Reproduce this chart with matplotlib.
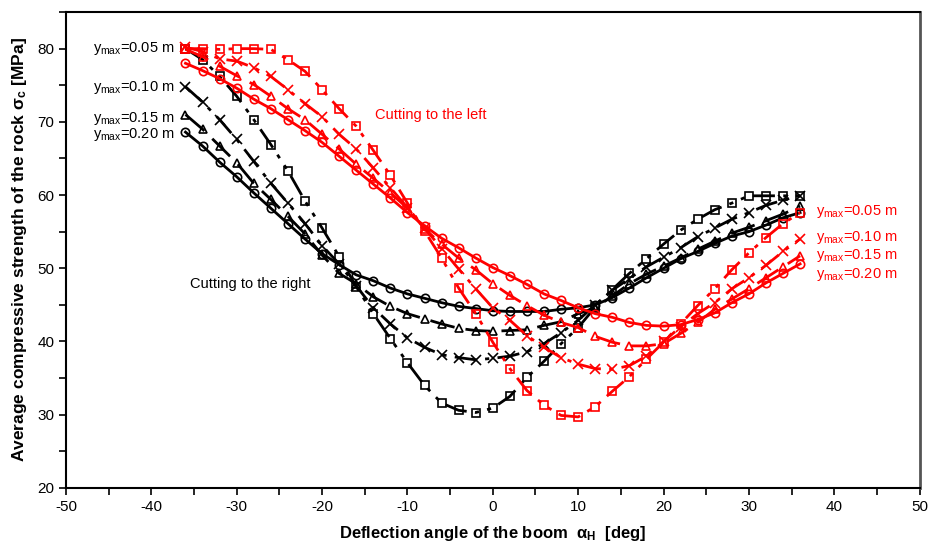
import matplotlib
matplotlib.use("Agg")
import matplotlib.pyplot as plt
from matplotlib.ticker import MultipleLocator

plt.rcParams["font.family"] = ["Liberation Sans", "DejaVu Sans"]
plt.rcParams["mathtext.fontset"] = "custom"
plt.rcParams["mathtext.rm"] = "Liberation Sans"
plt.rcParams["mathtext.it"] = "Liberation Sans:italic"
plt.rcParams["mathtext.bf"] = "Liberation Sans:bold"
plt.rcParams["axes.unicode_minus"] = False

# deflection angle of the boom [deg]
angle = list(range(-36, 37, 2))

# cutting to the right (black)
right_005 = [80.0, 78.5, 76.2, 73.5, 70.3, 66.9, 63.3, 59.2, 55.5, 51.6, 47.5, 43.8, 40.4,
             37.1, 34.0, 31.6, 30.6, 30.3, 30.9, 32.5, 35.1, 37.3, 39.7, 41.9, 44.7, 47.1,
             49.3, 51.3, 53.3, 55.2, 56.7, 58.0, 58.9, 59.9, 59.9, 59.9, 59.9]
right_010 = [74.8, 72.7, 70.3, 67.6, 64.6, 61.6, 58.9, 56.1, 53.1, 50.6, 47.6, 44.6, 42.4,
             40.5, 39.2, 38.2, 37.8, 37.5, 37.7, 38.0, 38.6, 39.7, 41.2, 42.9, 45.0, 47.0,
             48.6, 50.2, 51.5, 52.8, 54.3, 55.5, 56.7, 57.6, 58.6, 59.3, 59.9]
right_015 = [71.0, 69.0, 66.7, 64.4, 61.6, 59.4, 57.1, 54.7, 51.8, 49.3, 47.9, 46.1, 44.8,
             43.8, 43.1, 42.4, 41.8, 41.5, 41.4, 41.5, 41.6, 42.2, 42.7, 43.8, 44.6, 46.2,
             47.9, 49.2, 50.3, 51.4, 52.6, 53.7, 54.8, 55.6, 56.5, 57.4, 58.5]
right_020 = [68.6, 66.7, 64.5, 62.5, 60.3, 58.2, 56.1, 54.0, 52.0, 50.5, 49.1, 48.3, 47.3,
             46.5, 45.9, 45.3, 44.8, 44.5, 44.2, 44.1, 44.1, 44.1, 44.4, 44.6, 45.0, 46.0,
             47.3, 48.7, 50.0, 51.3, 52.3, 53.4, 54.4, 55.0, 55.9, 56.9, 57.6]

# cutting to the left (red)
left_005 = [80.0, 80.0, 79.9, 80.0, 80.0, 79.9, 78.5, 76.9, 74.4, 71.8, 69.4, 66.1, 62.7,
            58.9, 55.1, 51.4, 47.3, 43.8, 39.9, 36.3, 33.3, 31.3, 29.9, 29.7, 31.1, 33.2,
            35.2, 37.6, 39.9, 42.4, 44.9, 47.2, 49.8, 52.1, 54.2, 56.1, 57.6]
left_010 = [80.2, 79.6, 78.6, 78.3, 77.4, 76.2, 74.4, 72.5, 70.7, 68.3, 66.3, 63.7, 61.0,
            58.3, 55.5, 52.7, 49.9, 47.2, 44.6, 42.9, 40.8, 39.2, 37.8, 36.9, 36.3, 36.2,
            36.7, 38.0, 40.0, 42.0, 43.8, 45.3, 47.2, 48.7, 50.4, 52.3, 54.0]
left_015 = [79.9, 78.9, 77.6, 76.3, 75.1, 73.5, 71.8, 70.3, 68.3, 66.3, 64.2, 62.3, 60.3,
            58.2, 55.4, 53.3, 51.4, 49.8, 47.9, 46.3, 44.9, 43.6, 42.6, 41.9, 40.7, 39.9,
            39.4, 39.4, 39.7, 41.1, 42.6, 44.4, 45.8, 47.2, 48.7, 50.2, 51.7]
left_020 = [78.0, 77.0, 75.9, 74.6, 73.1, 71.8, 70.3, 68.8, 67.2, 65.3, 63.4, 61.5, 59.6,
            57.6, 55.8, 54.1, 52.8, 51.4, 50.1, 49.0, 47.8, 46.5, 45.6, 44.6, 43.8, 43.3,
            42.6, 42.2, 42.1, 42.3, 43.0, 43.9, 45.3, 46.5, 48.0, 49.3, 50.6]

ymax_labels = ["0.05", "0.10", "0.15", "0.20"]
# where the y_max notes sit (in MPa)
left_note_y = [80.0, 74.7, 70.5, 68.3]
right_note_y = [57.7, 54.2, 51.7, 49.2]

# marker / line style per y_max
styles = [
    dict(marker="s", ms=6, linestyle=(0, (8, 3, 1.5, 3, 1.5, 3))),
    dict(marker="x", ms=6.5, linestyle=(0, (8, 3, 1.5, 3))),
    dict(marker="^", ms=6, linestyle=(0, (9, 4))),
    dict(marker="o", ms=6, linestyle="-"),
]

fig = plt.figure(figsize=(9.36, 5.47), dpi=100)
ax = fig.add_axes([0.0705, 0.108, 0.912, 0.870])

for series, color in [([right_005, right_010, right_015, right_020], "black"),
                      ([left_005, left_010, left_015, left_020], "red")]:
    for vals, st in zip(series, styles):
        ax.plot(angle, vals, color=color, linewidth=2, linestyle=st["linestyle"])
        ax.plot(angle, vals, color=color, linestyle="none", marker=st["marker"],
                ms=st["ms"], markerfacecolor="none", markeredgewidth=1.2)

# y_max annotations
for lab, yv in zip(ymax_labels, left_note_y):
    ax.text(-37.3, yv, r"y$_{\mathrm{max}}$=" + lab + " m", color="black",
            fontsize=10.5, ha="right", va="center")
for lab, yv in zip(ymax_labels, right_note_y):
    ax.text(37.9, yv, r"y$_{\mathrm{max}}$=" + lab + " m", color="red",
            fontsize=10.5, ha="left", va="center")

ax.text(-13.8, 70.9, "Cutting to the left", color="red", fontsize=10.5, va="center")
ax.text(-35.5, 47.9, "Cutting to the right", color="black", fontsize=10.5, va="center")

ax.set_xlim(-50, 50)
ax.set_ylim(20, 85)
ax.xaxis.set_major_locator(MultipleLocator(10))
ax.xaxis.set_minor_locator(MultipleLocator(5))
ax.yaxis.set_major_locator(MultipleLocator(10))
ax.yaxis.set_minor_locator(MultipleLocator(5))
ax.tick_params(which="both", direction="out", length=5, width=1.2, labelsize=11)
ax.tick_params(axis="x", pad=4)

for side in ["left", "bottom", "top"]:
    ax.spines[side].set_linewidth(1.5)
ax.spines["right"].set_color("#555555")
ax.spines["right"].set_linewidth(2)

ax.set_xlabel(r"Deflection angle of the boom  $\mathbf{\alpha_H}$  [deg]",
              fontsize=12, fontweight="bold", labelpad=7)
ax.set_ylabel(r"Average compressive strength of the rock $\mathbf{\sigma_c}$ [MPa]",
              fontsize=12.5, fontweight="bold", labelpad=6)

fig.savefig("out.png", dpi=100)
